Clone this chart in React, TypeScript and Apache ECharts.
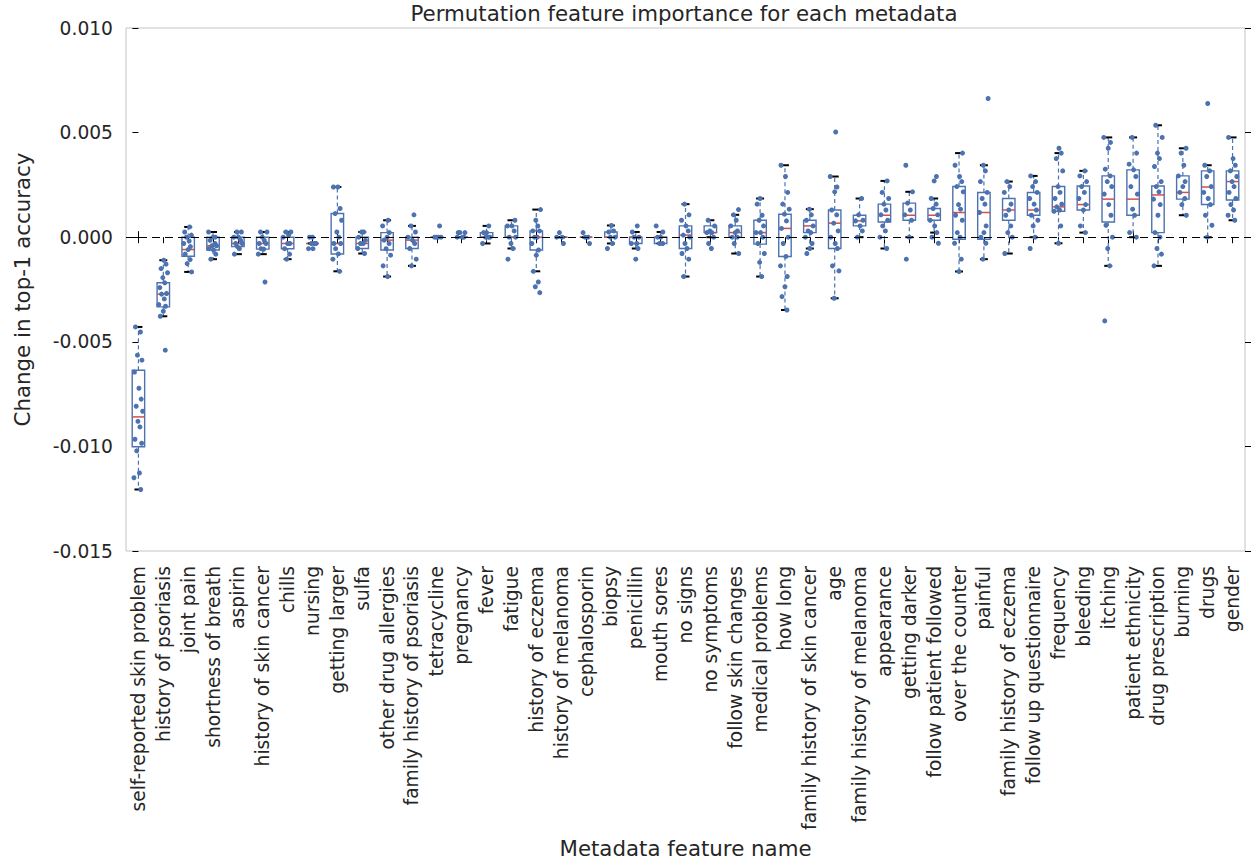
import React, { useEffect, useRef } from "react";
import * as echarts from "echarts";

const CATEGORIES = [
  "self-reported skin problem", "history of psoriasis", "joint pain", "shortness of breath",
  "aspirin", "history of skin cancer", "chills", "nursing", "getting larger", "sulfa",
  "other drug allergies", "family history of psoriasis", "tetracycline", "pregnancy", "fever",
  "fatigue", "history of eczema", "history of melanoma", "cephalosporin", "biopsy", "penicillin",
  "mouth sores", "no signs", "no symptoms", "follow skin changes", "medical problems", "how long",
  "family history of skin cancer", "age", "family history of melanoma", "appearance",
  "getting darker", "follow patient followed", "over the counter", "painful",
  "family history of eczema", "follow up questionnaire", "frequency", "bleeding", "itching",
  "patient ethnicity", "drug prescription", "burning", "drugs", "gender",
];

// box statistics, in units of 0.001
const WHISKER_LOW = [-12.06, -3.78, -1.66, -1.05, -0.81, -0.81, -1.05, -0.30, -1.63, -0.78, -1.88, -1.37, 0, 0, -0.30, -0.54, -1.63, 0, 0, -0.30, -0.54, -0.30, -1.88, 0, -0.78, -1.88, -3.48, -0.54, -2.92, 0, -0.54, 0, 0.22, -1.64, -1.05, -0.78, 0, -0.29, 0.22, -1.37, 0, -1.37, 1.05, 0, 0.81];
const Q1 = [-10.02, -3.33, -0.91, -0.61, -0.45, -0.57, -0.55, -0.30, -0.80, -0.54, -0.61, -0.54, 0, 0, 0, 0, -0.61, 0, 0, 0, -0.30, -0.30, -0.54, 0.22, 0, -0.33, -0.92, 0.22, -0.54, 0.54, 0.73, 0.81, 0.81, -0.10, -0.10, 0.81, 1.05, 1.24, 1.30, 0.73, 1.05, 0.22, 1.82, 1.56, 1.78];
const MEDIAN = [-8.59, -2.72, -0.59, -0.41, -0.30, -0.30, -0.30, -0.30, -0.30, -0.30, -0.14, -0.14, 0, 0, 0, 0, 0, 0, 0, 0, 0, 0, 0.10, 0.22, 0.22, 0.22, 0.42, 0.54, 0.67, 0.78, 1.05, 1.05, 1.05, 1.18, 1.18, 1.30, 1.30, 1.45, 1.56, 1.82, 1.82, 2.02, 2.14, 2.40, 2.66];
const Q3 = [-6.36, -2.18, 0, 0, 0, 0, 0, -0.30, 1.13, 0, 0.22, 0, 0, 0, 0.22, 0.54, 0.30, 0, 0, 0.25, 0, 0, 0.54, 0.54, 0.54, 0.81, 1.10, 0.81, 1.30, 1.05, 1.58, 1.63, 1.37, 2.42, 2.14, 1.85, 2.14, 2.42, 2.45, 2.93, 3.22, 2.45, 2.93, 3.17, 3.17];
const WHISKER_HIGH = [-4.29, -1.10, 0.49, 0.25, 0.25, 0.25, 0.25, -0.30, 2.40, 0.25, 0.81, 0.54, 0, 0, 0.54, 0.81, 1.32, 0, 0, 0.56, 0.25, 0.25, 1.58, 0.81, 1.07, 1.85, 3.44, 1.34, 2.90, 1.85, 2.69, 2.17, 1.85, 4.02, 3.44, 2.66, 2.93, 4.02, 3.17, 4.77, 4.77, 5.35, 4.25, 3.44, 4.77];

// individual permutation results per feature, in units of 0.001
const POINTS = [
  [-4.29, -4.53, -5.64, -5.88, -6.45, -7.22, -7.74, -8.08, -8.32, -8.80, -9.07, -9.66, -9.85, -10.21, -11.27, -11.50, -12.06],
  [-1.10, -1.29, -1.50, -1.70, -1.93, -2.18, -2.41, -2.69, -2.72, -2.95, -3.22, -3.30, -3.54, -3.78, -5.40],
  [0.49, 0.25, 0.10, 0, -0.18, -0.30, -0.45, -0.59, -0.81, -1.07, -1.26, -1.66],
  [0.25, 0, 0, -0.15, -0.30, -0.41, -0.41, -0.55, -0.61, -0.81, -1.05],
  [0.25, 0.25, 0, 0, -0.15, -0.30, -0.30, -0.45, -0.55, -0.81],
  [0.25, 0.25, 0, -0.15, -0.30, -0.30, -0.55, -0.57, -0.81, -2.14],
  [0.25, 0.25, 0.10, 0, -0.30, -0.30, -0.55, -0.81, -1.05],
  [0, 0, -0.30, -0.30, -0.30, -0.55, -0.55],
  [2.40, 2.40, 1.37, 1.13, 0.81, 0.25, 0, -0.30, -0.30, -0.55, -0.80, -1.05, -1.63],
  [0.25, 0.25, 0, -0.15, -0.30, -0.30, -0.54, -0.78],
  [0.81, 0.54, 0.22, 0, -0.14, -0.30, -0.55, -0.86, -1.37, -1.88],
  [1.07, 0.54, 0.25, 0, -0.14, -0.30, -0.54, -1.05, -1.37],
  [0.54, 0, 0, 0, 0],
  [0.22, 0.22, 0.22, 0, 0, 0],
  [0.54, 0.22, 0.22, 0, 0, 0, -0.30],
  [0.81, 0.54, 0.54, 0.30, 0, 0, -0.30, -0.54, -1.05],
  [1.32, 0.81, 0.54, 0.30, 0.30, 0, 0, -0.30, -0.61, -0.86, -1.63, -2.14, -2.37, -2.65],
  [0.22, 0, 0, -0.30],
  [0.22, 0, 0, -0.30],
  [0.56, 0.30, 0.25, 0, 0, -0.30, -0.54],
  [0.54, 0.25, 0, 0, -0.30, -0.30, -0.54, -1.05],
  [0.54, 0.25, 0, 0, -0.30, -0.30],
  [1.58, 1.07, 0.81, 0.54, 0.30, 0.10, 0, -0.30, -0.54, -0.78, -1.05, -1.88],
  [0.81, 0.54, 0.30, 0.22, 0.22, 0, -0.30, -0.54],
  [1.32, 1.07, 0.81, 0.54, 0.30, 0.22, 0, 0, -0.30, -0.78],
  [1.85, 1.58, 1.05, 0.81, 0.54, 0.22, 0.22, 0, -0.30, -0.78, -1.20, -1.88],
  [3.44, 2.90, 2.14, 1.58, 1.34, 1.10, 0.78, 0.42, 0, -0.30, -0.92, -1.37, -1.88, -2.37, -2.84, -3.48],
  [1.34, 1.07, 0.81, 0.54, 0.30, 0.22, 0, -0.30, -0.54, -0.78],
  [5.03, 2.90, 2.40, 2.17, 1.30, 1.07, 0.67, 0.30, 0, -0.30, -0.54, -1.37, -1.61, -2.92],
  [1.85, 1.07, 0.81, 0.78, 0.54, 0.30, 0],
  [2.69, 2.14, 1.85, 1.58, 1.30, 1.07, 0.81, 0.54, 0.30, 0, -0.54],
  [3.44, 2.17, 1.63, 1.30, 1.07, 0.81, 0, -1.05],
  [2.90, 2.69, 1.85, 1.58, 1.37, 1.07, 0.81, 0.54, 0.22, 0, -0.29],
  [4.02, 3.44, 2.90, 2.66, 2.42, 2.17, 1.56, 1.34, 1.05, 0.81, 0.22, 0, -0.29, -1.05, -1.64],
  [6.63, 3.44, 3.17, 2.66, 2.14, 1.85, 1.58, 1.18, 0.54, 0.22, 0, -0.29, -1.05],
  [2.66, 2.42, 2.14, 1.58, 1.30, 1.05, 0.54, 0.22, 0, -0.78],
  [2.93, 2.66, 2.42, 2.14, 1.85, 1.58, 1.30, 1.05, 0.81, 0.54, 0, -0.54],
  [4.25, 4.02, 3.76, 3.17, 2.42, 2.14, 1.85, 1.58, 1.45, 1.30, 1.24, 0.54, -0.29],
  [3.17, 2.93, 2.66, 2.42, 2.14, 1.85, 1.56, 1.30, 0.54, 0.22],
  [4.77, 4.53, 4.25, 3.25, 2.93, 2.66, 2.42, 2.06, 1.56, 1.05, 0.57, 0, -0.54, -1.37, -4.00],
  [4.77, 4.02, 3.49, 3.22, 2.90, 2.42, 2.06, 1.34, 1.05, 0.22, 0],
  [5.35, 4.77, 4.02, 3.76, 3.38, 2.66, 2.42, 2.17, 1.82, 1.56, 1.05, 0.22, 0, -0.54, -0.81, -1.37],
  [4.25, 4.02, 3.44, 2.93, 2.66, 2.42, 2.14, 1.85, 1.56, 1.05],
  [6.39, 3.44, 3.17, 2.90, 2.42, 2.14, 1.85, 1.56, 1.05, 0.57, 0],
  [4.77, 3.76, 3.44, 3.17, 2.90, 2.66, 2.42, 2.14, 1.85, 1.56, 1.30, 1.05, 0.81],
];

const Y_TICKS = { min: -0.015, max: 0.01, interval: 0.005 };
const SCALE = 0.001;

// horizontal strip jitter pattern (fraction of a category band)
const JITTER = [-0.12, 0.08, -0.04, 0.14, -0.16, 0.02, 0.11, -0.09, 0.17, -0.02, 0.06, -0.14, 0.13, -0.07, 0.04, -0.18, 0.09, 0.0];

const BLUE = "#4C72B0";
const RED = "#D0504F";
const FONT = "DejaVu Sans";
const FS_TICK = 18.67;
const FS_NAME = 21.33;
const TEXT = "#262626";

export default function App() {
  const ref = useRef<HTMLDivElement>(null);

  useEffect(() => {
    if (!ref.current) return;
    const chart = echarts.init(ref.current, undefined, { renderer: "svg" });

    const boxData = CATEGORIES.map((_, i) => [
      i,
      WHISKER_LOW[i] * SCALE,
      Q1[i] * SCALE,
      MEDIAN[i] * SCALE,
      Q3[i] * SCALE,
      WHISKER_HIGH[i] * SCALE,
    ]);

    const pointData: number[][] = [];
    POINTS.forEach((vals, i) => {
      vals.forEach((v, j) => {
        pointData.push([i + JITTER[(j + i * 5) % JITTER.length], v * SCALE]);
      });
    });

    const tickStyle = { show: true, length: 6, inside: false, lineStyle: { color: "#000", width: 1 } };

    chart.setOption({
      animation: false,
      backgroundColor: "#fff",
      title: {
        text: "Permutation feature importance for each metadata",
        left: 684,
        top: 3,
        padding: 0,
        textAlign: "center",
        textStyle: { fontFamily: FONT, fontSize: FS_NAME, fontWeight: "normal", color: TEXT },
      },
      grid: {
        left: 126,
        right: 9,
        top: 28,
        bottom: 311,
        containLabel: false,
        outerBoundsMode: "none",
        show: true,
        borderColor: "#c4c4c4",
        borderWidth: 1,
        backgroundColor: "transparent",
      },
      xAxis: [
        {
          type: "category",
          data: CATEGORIES,
          position: "bottom",
          boundaryGap: true,
          axisLine: { show: false },
          axisTick: { ...tickStyle, alignWithLabel: true },
          axisLabel: {
            rotate: 90,
            interval: 0,
            margin: 15,
            fontFamily: FONT,
            fontSize: FS_TICK,
            color: TEXT,
          },
          splitLine: { show: false },
          name: "Metadata feature name",
          nameLocation: "middle",
          nameGap: 287,
          nameMoveOverlap: false,
          nameTextStyle: { fontFamily: FONT, fontSize: FS_NAME, color: TEXT },
        },
        {
          type: "category",
          data: CATEGORIES,
          position: "top",
          boundaryGap: true,
          axisLine: { show: false },
          axisTick: { ...tickStyle, alignWithLabel: true },
          axisLabel: { show: false },
          splitLine: { show: false },
        },
        {
          type: "value",
          min: -0.5,
          max: CATEGORIES.length - 0.5,
          show: false,
        },
      ],
      yAxis: [
        {
          type: "value",
          min: Y_TICKS.min,
          max: Y_TICKS.max,
          interval: Y_TICKS.interval,
          position: "left",
          axisLine: { show: false },
          axisTick: tickStyle,
          splitLine: { show: false },
          axisLabel: {
            margin: 13,
            fontFamily: FONT,
            fontSize: FS_TICK,
            color: TEXT,
            formatter: (v: number) => v.toFixed(3),
          },
          name: "Change in top-1 accuracy",
          nameLocation: "middle",
          nameGap: 93,
          nameRotate: 90,
          nameMoveOverlap: false,
          nameTextStyle: { fontFamily: FONT, fontSize: FS_NAME, color: TEXT },
        },
        {
          type: "value",
          min: Y_TICKS.min,
          max: Y_TICKS.max,
          interval: Y_TICKS.interval,
          position: "right",
          axisLine: { show: false },
          axisTick: tickStyle,
          splitLine: { show: false },
          axisLabel: { show: false },
        },
      ],
      series: [
        {
          type: "custom",
          name: "box",
          xAxisIndex: 0,
          yAxisIndex: 0,
          z: 2,
          data: boxData,
          encode: { x: 0, y: [1, 2, 3, 4, 5] },
          renderItem: (params: any, api: any) => {
            const i = api.value(0);
            const pLow = api.coord([i, api.value(1)]);
            const pQ1 = api.coord([i, api.value(2)]);
            const pMed = api.coord([i, api.value(3)]);
            const pQ3 = api.coord([i, api.value(4)]);
            const pHigh = api.coord([i, api.value(5)]);
            const band = api.coord([1, 0])[0] - api.coord([0, 0])[0];
            const hw = band * 0.25;
            const cw = band * 0.16;
            const x = pMed[0];
            const dash = { stroke: BLUE, lineWidth: 1.2, lineDash: [4, 3] };
            return {
              type: "group",
              children: [
                { type: "line", shape: { x1: x, y1: pQ3[1], x2: x, y2: pHigh[1] }, style: dash },
                { type: "line", shape: { x1: x, y1: pQ1[1], x2: x, y2: pLow[1] }, style: dash },
                {
                  type: "rect",
                  shape: { x: x - hw, y: pQ3[1], width: hw * 2, height: pQ1[1] - pQ3[1] },
                  style: { fill: "none", stroke: BLUE, lineWidth: 1.4 },
                },
                {
                  type: "line",
                  shape: { x1: x - hw, y1: pMed[1], x2: x + hw, y2: pMed[1] },
                  style: { stroke: RED, lineWidth: 1.5 },
                },
                {
                  type: "line",
                  z2: 5,
                  shape: { x1: x - cw, y1: pHigh[1], x2: x + cw, y2: pHigh[1] },
                  style: { stroke: "#000", lineWidth: 2 },
                },
                {
                  type: "line",
                  z2: 5,
                  shape: { x1: x - cw, y1: pLow[1], x2: x + cw, y2: pLow[1] },
                  style: { stroke: "#000", lineWidth: 2 },
                },
              ],
            };
          },
          markLine: {
            silent: true,
            symbol: "none",
            label: { show: false },
            lineStyle: { color: "#000", type: [8, 5], width: 1.2 },
            data: [{ yAxis: 0 }],
          },
        },
        {
          type: "scatter",
          name: "points",
          xAxisIndex: 2,
          yAxisIndex: 0,
          z: 3,
          symbol: "circle",
          symbolSize: 5,
          itemStyle: { color: BLUE, opacity: 1 },
          data: pointData,
        },
      ],
    });

    return () => chart.dispose();
  }, []);

  return (
    <div
      ref={ref}
      style={{ position: "fixed", left: 0, top: 0, width: 1254, height: 862, background: "#fff" }}
    />
  );
}
